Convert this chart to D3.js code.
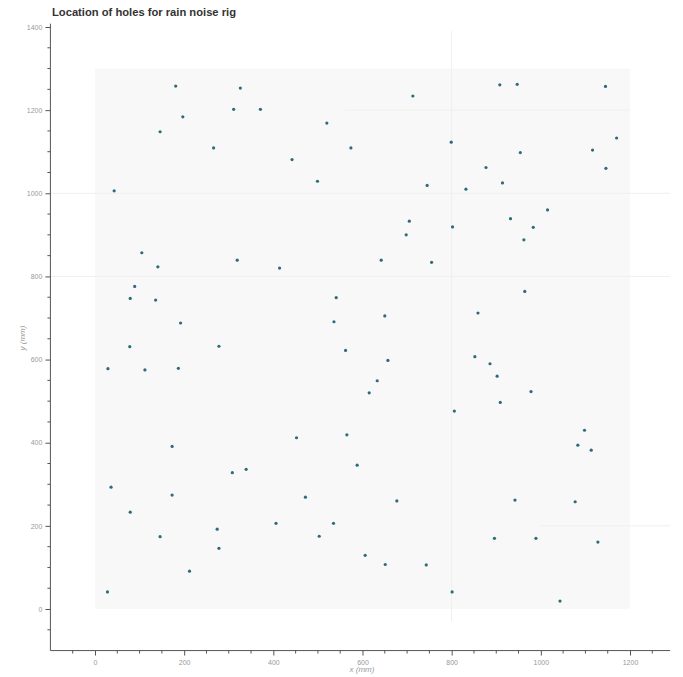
<!DOCTYPE html>
<html>
<head>
<meta charset="utf-8">
<script src="https://cdn.jsdelivr.net/npm/d3@7"></script>
<style>
  body { margin: 0; background: #fff; }
  text { font-family: "Liberation Sans", Arial, sans-serif; }
</style>
</head>
<body>
<svg id="chart" width="683" height="677"></svg>
<script>
// hole positions (mm)
const holeX = [181, 326, 311, 371, 197, 146, 266, 43, 105, 319, 141, 89, 79, 136, 192,
  78, 278, 29, 112, 187, 173, 308, 339, 36, 173, 79, 146, 274, 278, 212, 28,
  713, 520, 574, 442, 499, 745, 705, 698, 642, 755, 414, 541, 536, 650,
  562, 657, 633, 615, 452, 565, 588, 472, 677, 406, 535, 503, 606, 651, 743,
  908, 947, 1145, 799, 1170, 1116, 954, 877, 1146, 914, 832, 1015, 932, 983, 802, 962, 964, 859,
  852, 886, 902, 978, 909, 806, 1098, 1083, 1113, 942, 1077, 896, 989, 1128, 801, 1043];
const holeY = [1258, 1253, 1202, 1202, 1184, 1148, 1109, 1006, 857, 839, 823, 776, 747, 743, 688,
  631, 632, 578, 575, 579, 391, 328, 336, 293, 274, 233, 174, 192, 146, 91, 41,
  1234, 1169, 1109, 1081, 1029, 1019, 933, 900, 839, 834, 820, 749, 691, 705,
  622, 598, 549, 520, 412, 419, 346, 269, 260, 206, 206, 175, 129, 107, 106,
  1261, 1262, 1257, 1123, 1133, 1104, 1098, 1062, 1060, 1025, 1010, 960, 939, 918, 919, 888, 764, 712,
  607, 590, 560, 523, 497, 476, 430, 394, 382, 262, 258, 170, 170, 161, 41, 19];
const xTicks = [0, 200, 400, 600, 800, 1000, 1200];
const yTicks = [0, 200, 400, 600, 800, 1000, 1200, 1400];
const rigW = 1200, rigH = 1300;

const svg = d3.select("#chart");

const x = d3.scaleLinear().domain([0, 1200]).range([95, 630]);
const y = d3.scaleLinear().domain([0, 1400]).range([609, 27]);

// light rig panel behind the points
svg.append("rect")
  .attr("x", x(0)).attr("y", y(rigH))
  .attr("width", x(rigW) - x(0)).attr("height", y(0) - y(rigH))
  .attr("fill", "#f8f8f8");

// faint lines seen in the background
const faint = svg.append("g").attr("stroke", "#efefef").attr("stroke-width", 1);
[1000, 800].forEach(v => faint.append("line")
  .attr("x1", x(-100)).attr("x2", x(1290)).attr("y1", y(v)).attr("y2", y(v)));
faint.append("line").attr("x1", x(800)).attr("x2", x(800)).attr("y1", y(1390)).attr("y2", y(-30));
faint.append("line").attr("x1", x(560)).attr("x2", x(1200)).attr("y1", y(1200)).attr("y2", y(1200));
faint.append("line").attr("x1", x(1000)).attr("x2", x(1290)).attr("y1", y(200)).attr("y2", y(200));

// axes
const fmt = d3.format("d");
const xAxis = d3.axisBottom(x).tickValues(xTicks).tickFormat(fmt).tickSize(5).tickPadding(4);
const yAxis = d3.axisLeft(y).tickValues(yTicks).tickFormat(fmt).tickSize(5).tickPadding(3);
const xMinor = d3.range(-50, 1290, 50).filter(v => v % 200 !== 0);
const yMinor = d3.range(-50, 1401, 50).filter(v => v % 200 !== 0);

const gx = svg.append("g").attr("transform", `translate(0,${y(-100)})`).call(xAxis);
const gy = svg.append("g").attr("transform", `translate(${x(-100)},0)`).call(yAxis);
gx.select(".domain").attr("d", `M${x(-100)},0H${x(1290)}`);
gy.select(".domain").attr("d", `M0,${y(1408)}V${y(-100)}`);

gx.selectAll(".minor").data(xMinor).enter().append("line")
  .attr("x1", d => x(d)).attr("x2", d => x(d)).attr("y1", 0).attr("y2", 3)
  .attr("stroke", "#555");
gy.selectAll(".minor").data(yMinor).enter().append("line")
  .attr("y1", d => y(d)).attr("y2", d => y(d)).attr("x1", 0).attr("x2", -3)
  .attr("stroke", "#555");

[gx, gy].forEach(g => {
  g.selectAll(".domain, .tick line").attr("stroke", "#555");
  g.selectAll("text").attr("fill", "#999").style("font-size", "7px")
    .style("font-family", "'Liberation Sans', Arial, sans-serif");
});

svg.append("text")
  .attr("x", 362).attr("y", 672).attr("text-anchor", "middle")
  .attr("fill", "#999").style("font-size", "8px").style("font-style", "italic")
  .text("x (mm)");
svg.append("text")
  .attr("transform", "translate(25,338) rotate(-90)").attr("text-anchor", "middle")
  .attr("fill", "#999").style("font-size", "8px").style("font-style", "italic")
  .text("y (mm)");

svg.append("text")
  .attr("x", 52).attr("y", 16)
  .attr("fill", "#333").style("font-size", "11.2px").style("font-weight", "bold")
  .text("Location of holes for rain noise rig");

// holes
svg.append("g").selectAll("circle")
  .data(holeX.map((d, i) => [d, holeY[i]]))
  .enter().append("circle")
  .attr("cx", d => x(d[0])).attr("cy", d => y(d[1]))
  .attr("r", 1.6)
  .attr("fill", "#2d6b78");
</script>
</body>
</html>
